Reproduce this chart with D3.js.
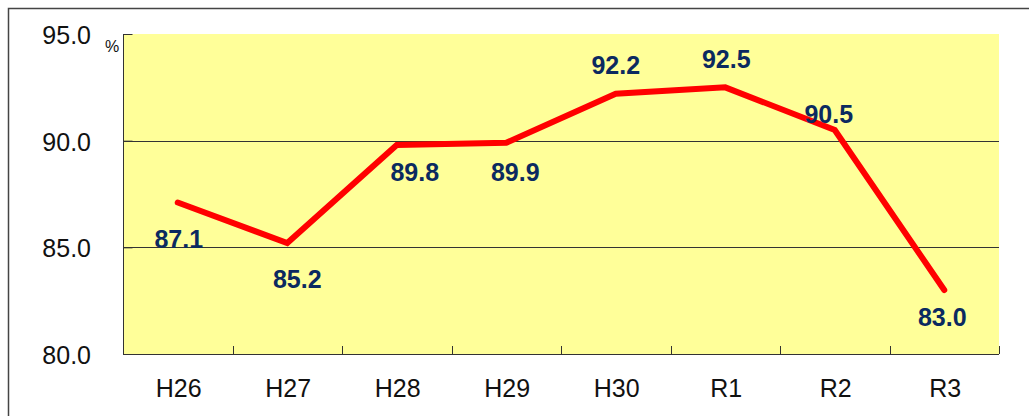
<!DOCTYPE html>
<html>
<head>
<meta charset="utf-8">
<script src="https://cdn.jsdelivr.net/npm/d3@7/dist/d3.min.js"></script>
<style>
  html, body { margin: 0; padding: 0; background: #ffffff; }
  svg { display: block; }
</style>
</head>
<body>
<svg id="chart" width="1029" height="416"></svg>
<script>
// ---- data ----
const categories = ["H26", "H27", "H28", "H29", "H30", "R1", "R2", "R3"];
const values = [87.1, 85.2, 89.8, 89.9, 92.2, 92.5, 90.5, 83.0];
const yTicks = [80, 85, 90, 95];
const unitLabel = "%";

// label placement (style config, offsets in px relative to point)
const labelDx = [1, 10, 18, 9, 0, 1, -6, -2];
const labelDy = [45, 45, 36, 38, -20, -19, -7, 36];

// ---- layout ----
const W = 1029, H = 416;
const plot = { left: 123, top: 34, right: 999, bottom: 354 };

const svg = d3.select("#chart");

// outer frame (only top & left visible)
svg.append("rect")
  .attr("x", 8.5).attr("y", 8.5)
  .attr("width", 1200).attr("height", 600)
  .attr("fill", "none").attr("stroke", "#444").attr("stroke-width", 1.5);

const x = d3.scaleBand().domain(categories)
  .range([plot.left, plot.right]).padding(0);
const y = d3.scaleLinear().domain([80, 95])
  .range([plot.bottom, plot.top]);

// plot background
svg.append("rect")
  .attr("x", plot.left).attr("y", plot.top)
  .attr("width", plot.right - plot.left).attr("height", plot.bottom - plot.top)
  .attr("fill", "#FFFF99");

// gridlines
svg.append("g").selectAll("line")
  .data(yTicks.filter(t => t > 80 && t < 95))
  .join("line")
  .attr("x1", plot.left).attr("x2", plot.right)
  .attr("y1", d => Math.round(y(d)) + 0.5).attr("y2", d => Math.round(y(d)) + 0.5)
  .attr("stroke", "#333").attr("stroke-width", 1);

// y axis (ticks inward)
const yAxis = d3.axisRight(y).tickValues(yTicks).tickSize(9).tickFormat("");
const yg = svg.append("g").attr("transform", `translate(${plot.left + 0.5},0)`).call(yAxis);
yg.select(".domain").attr("stroke", "#333").attr("d", `M0,${plot.top}V${plot.bottom}`);
yg.selectAll(".tick line").attr("stroke", "#333");

// y tick labels
svg.append("g").selectAll("text")
  .data(yTicks).join("text")
  .attr("x", 91).attr("y", d => y(d) + 10)
  .attr("text-anchor", "end")
  .attr("font-family", "Liberation Sans, Arial, sans-serif")
  .attr("font-size", 25).attr("fill", "#111")
  .text(d => d.toFixed(1));

// unit label
svg.append("text")
  .attr("x", 105).attr("y", 52)
  .attr("font-family", "Liberation Sans, Arial, sans-serif")
  .attr("font-size", 16).attr("fill", "#111")
  .text(unitLabel);

// x axis
const boundaries = categories.map(c => x(c) + x.bandwidth());
svg.append("line")
  .attr("x1", plot.left).attr("x2", plot.right)
  .attr("y1", plot.bottom + 0.5).attr("y2", plot.bottom + 0.5)
  .attr("stroke", "#333").attr("stroke-width", 1);
svg.append("g").selectAll("line")
  .data(boundaries).join("line")
  .attr("x1", d => Math.round(d) + 0.5).attr("x2", d => Math.round(d) + 0.5)
  .attr("y1", plot.bottom).attr("y2", plot.bottom - 8)
  .attr("stroke", "#333").attr("stroke-width", 1);

// x labels
svg.append("g").selectAll("text")
  .data(categories).join("text")
  .attr("x", d => x(d) + x.bandwidth() / 2 + 1)
  .attr("y", 397)
  .attr("text-anchor", "middle")
  .attr("font-family", "Liberation Sans, Arial, sans-serif")
  .attr("font-size", 25).attr("fill", "#111")
  .text(d => d);

// line
const pts = categories.map((c, i) => [x(c) + x.bandwidth() / 2, y(values[i])]);
svg.append("path")
  .attr("d", d3.line()(pts))
  .attr("fill", "none")
  .attr("stroke", "#FF0000")
  .attr("stroke-width", 6)
  .attr("stroke-linecap", "round")
  .attr("stroke-linejoin", "miter");

// value labels
svg.append("g").selectAll("text")
  .data(values).join("text")
  .attr("x", (d, i) => pts[i][0] + labelDx[i])
  .attr("y", (d, i) => pts[i][1] + labelDy[i])
  .attr("text-anchor", "middle")
  .attr("font-family", "Liberation Sans, Arial, sans-serif")
  .attr("font-weight", "bold")
  .attr("font-size", 25)
  .attr("fill", "#0B2A60")
  .text(d => d.toFixed(1));
</script>
</body>
</html>
